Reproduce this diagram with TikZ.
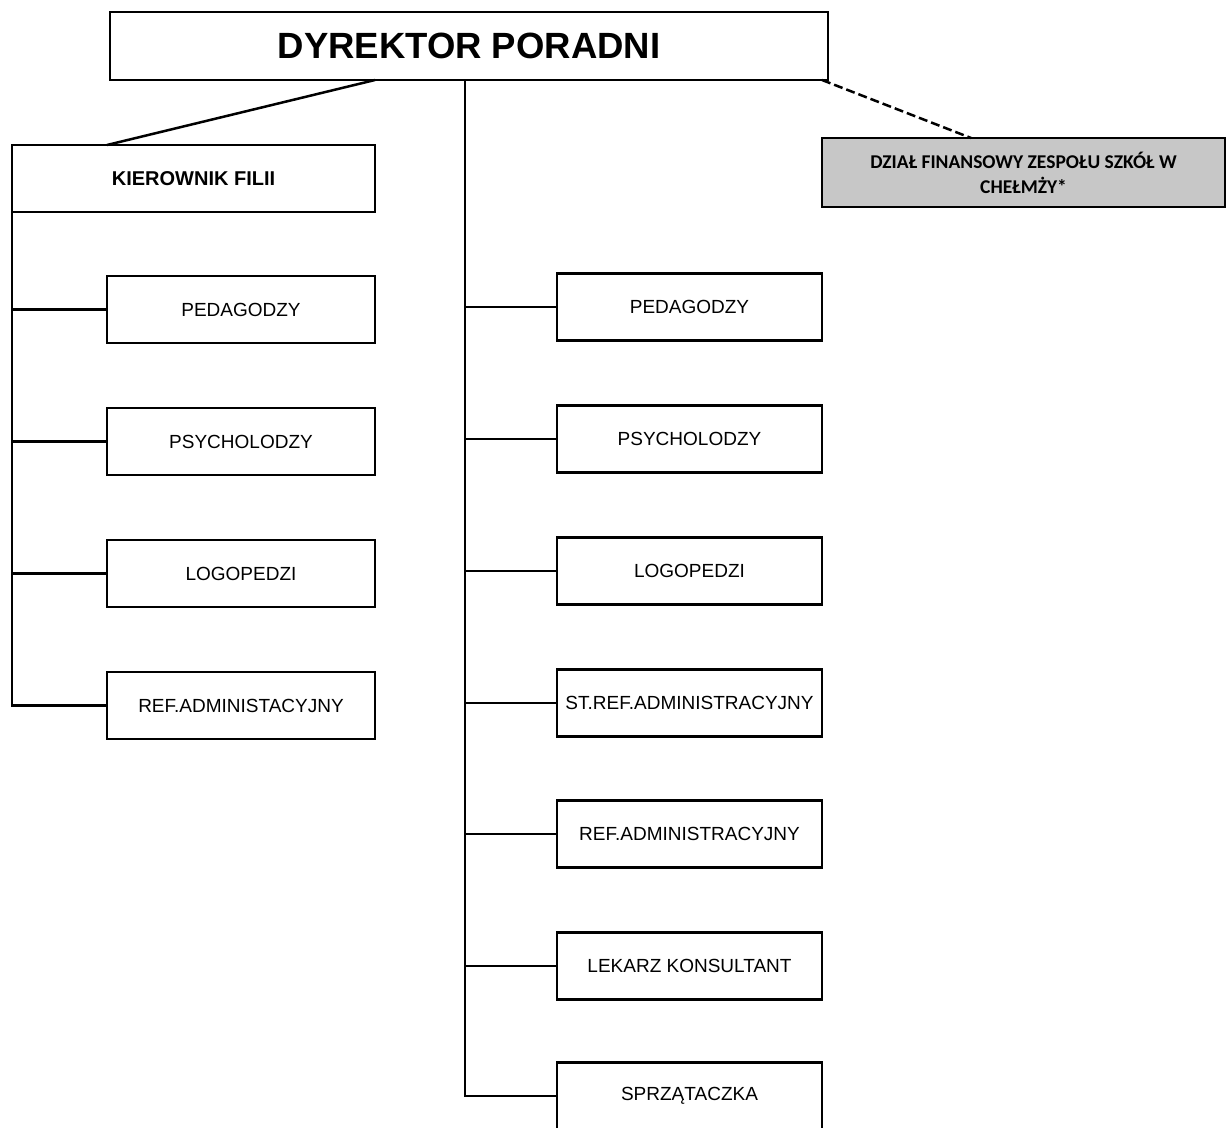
\documentclass[tikz,border=0pt]{standalone}
\usepackage{fontspec}
\setmainfont{Liberation Sans}
\newfontfamily\calibri{Carlito}
\usetikzlibrary{calc}

\begin{document}
\begin{tikzpicture}[x=1pt,y=-1pt,
                    box/.style={draw,line width=2.5pt,inner sep=0pt,outer sep=0pt,
                                minimum height=67pt,align=center,
                                font=\fontsize{19}{23}\selectfont},
                    lbox/.style={box,minimum width=268pt},
                    rbox/.style={box,minimum width=265pt},
                    link/.style={line width=2.5pt}]
                    \useasboundingbox (0,0) rectangle (1228,1127);
                    \node[box,minimum width=718pt,minimum height=68pt,
                          font=\fontsize{36.5}{40}\selectfont\bfseries] (dyr) at (469,46) {DYREKTOR PORADNI};
                    \node[box,minimum width=363pt,font=\fontsize{20}{24}\selectfont\bfseries] (kier) at (193.5,178.5) {KIEROWNIK FILII};
                    \node[box,minimum width=403pt,minimum height=69pt,fill=black!22,
                          font=\fontsize{19.5}{25}\selectfont\calibri\bfseries] (dzial) at (1023.5,172.5)
                          {DZIAŁ FINANSOWY ZESPOŁU SZKÓŁ W\\CHEŁMŻY*};
                    % filia
                    \node[lbox] (lped) at (241,309.5) {PEDAGODZY};
                    \node[lbox] (lpsy) at (241,441.5) {PSYCHOLODZY};
                    \node[lbox] (llog) at (241,573.5) {LOGOPEDZI};
                    \node[lbox] (lref) at (241,705.5) {REF.ADMINISTACYJNY};
                    % poradnia
                    \node[rbox] (rped) at (689.5,307) {PEDAGODZY};
                    \node[rbox] (rpsy) at (689.5,439) {PSYCHOLODZY};
                    \node[rbox] (rlog) at (689.5,571) {LOGOPEDZI};
                    \node[rbox] (rstref) at (689.5,703) {ST.REF.ADMINISTRACYJNY};
                    \node[rbox] (rref) at (689.5,834) {REF.ADMINISTRACYJNY};
                    \node[rbox] (rlek) at (689.5,966) {LEKARZ KONSULTANT};
                    \node[rbox] (rsprz) at (689.5,1096) {SPRZĄTACZKA};
                    \coordinate (rtop) at (465,80);
                    % connectors
                    \draw[link] (dyr.south -| kier.east) -- (kier.north -| lped.west);
                    \draw[link,dashed,dash pattern=on 9pt off 4pt]
                        (dyr.south -| dzial.west) -- ($(dzial.north west)!0.37!(dzial.north east)$);
                    \draw[link] (kier.south west) |- (lref.west);
                    \foreach \n in {lped,lpsy,llog}
                        \draw[link] (\n.west) -- (\n.west -| kier.west);
                    \draw[link] (rtop) |- (rsprz.west);
                    \foreach \n in {rped,rpsy,rlog,rstref,rref,rlek}
                        \draw[link] (\n.west) -- (\n.west -| rtop);
\end{tikzpicture}
\end{document}
